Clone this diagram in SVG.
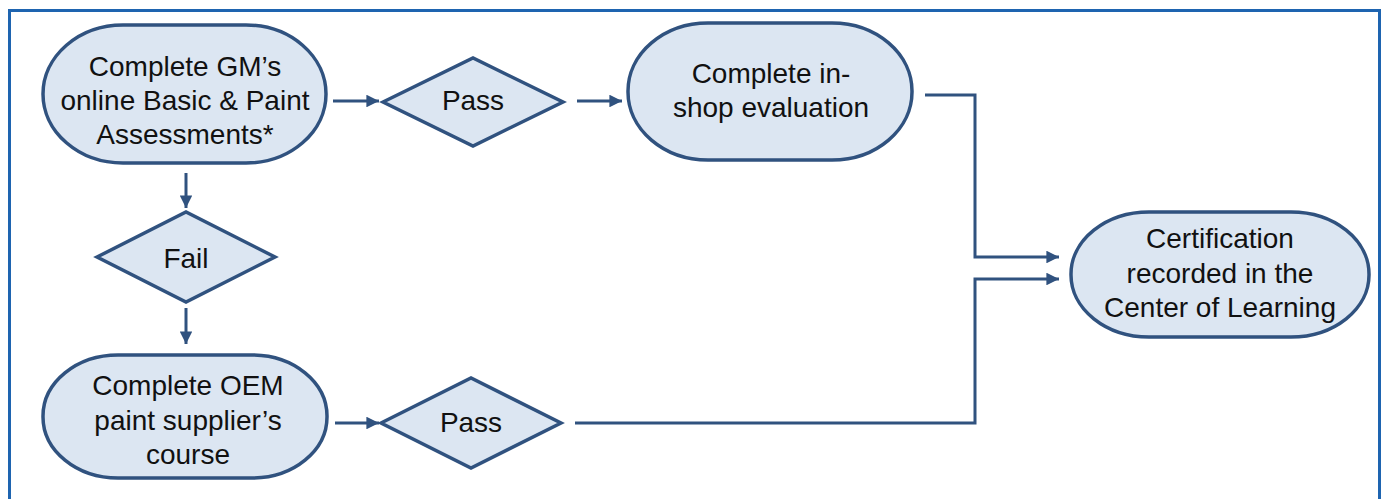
<svg xmlns="http://www.w3.org/2000/svg" width="1383" height="499" viewBox="0 0 1383 499">
<defs>
<style>
.node{fill:#dce6f2;stroke:#30527f;stroke-width:3.5}
.t{font-family:"Liberation Sans",Arial,sans-serif;font-size:28px;fill:#111;text-anchor:middle}
.c{fill:none;stroke:#30527f;stroke-width:3}
</style>
<marker id="ah" viewBox="0 0 10 10" refX="10" refY="5" markerWidth="4.2" markerHeight="4.2" markerUnits="strokeWidth" orient="auto">
<path d="M0,0 L10,5 L0,10 z" fill="#30527f"/>
</marker>
</defs>
<rect width="1383" height="499" fill="#fff"/>
<rect x="9.5" y="10.5" width="1370" height="505" fill="none" stroke="#1e64b0" stroke-width="3"/>
<g id="connectors">
<path class="c" d="M333,101 H379" marker-end="url(#ah)"/>
<path class="c" d="M577,101 H622" marker-end="url(#ah)"/>
<path class="c" d="M186,173 V208" marker-end="url(#ah)"/>
<path class="c" d="M186,308 V344" marker-end="url(#ah)"/>
<path class="c" d="M335,423 H379" marker-end="url(#ah)"/>
<path class="c" d="M925,95 H975 V257 H1059" marker-end="url(#ah)"/>
<path class="c" d="M575,423 H975 V279 H1059" marker-end="url(#ah)"/>
</g>
<g id="n_gm">
<rect class="node" x="43" y="25" width="283" height="138" rx="80" ry="69"/>
<text class="t" x="185" y="76">Complete GM’s</text>
<text class="t" x="185" y="110">online Basic &amp; Paint</text>
<text class="t" x="185" y="144">Assessments*</text>
</g>
<g id="n_pass1">
<polygon class="node" points="383,102 473,58 563,102 473,146"/>
<text class="t" x="473" y="110">Pass</text>
</g>
<g id="n_inshop">
<rect class="node" x="628" y="23" width="284" height="137" rx="80" ry="68"/>
<text class="t" x="771" y="83">Complete in-</text>
<text class="t" x="771" y="117">shop evaluation</text>
</g>
<g id="n_fail">
<polygon class="node" points="97,257 186,212 275,257 186,302"/>
<text class="t" x="186" y="268">Fail</text>
</g>
<g id="n_oem">
<rect class="node" x="43" y="355" width="284" height="123" rx="75" ry="61"/>
<text class="t" x="188" y="395">Complete OEM</text>
<text class="t" x="188" y="430">paint supplier’s</text>
<text class="t" x="188" y="464">course</text>
</g>
<g id="n_pass2">
<polygon class="node" points="381,423 471,378 561,423 471,468"/>
<text class="t" x="471" y="432">Pass</text>
</g>
<g id="n_cert">
<rect class="node" x="1071" y="212" width="298" height="125" rx="78" ry="62"/>
<text class="t" x="1220" y="248">Certification</text>
<text class="t" x="1220" y="283">recorded in the</text>
<text class="t" x="1220" y="317">Center of Learning</text>
</g>
</svg>
